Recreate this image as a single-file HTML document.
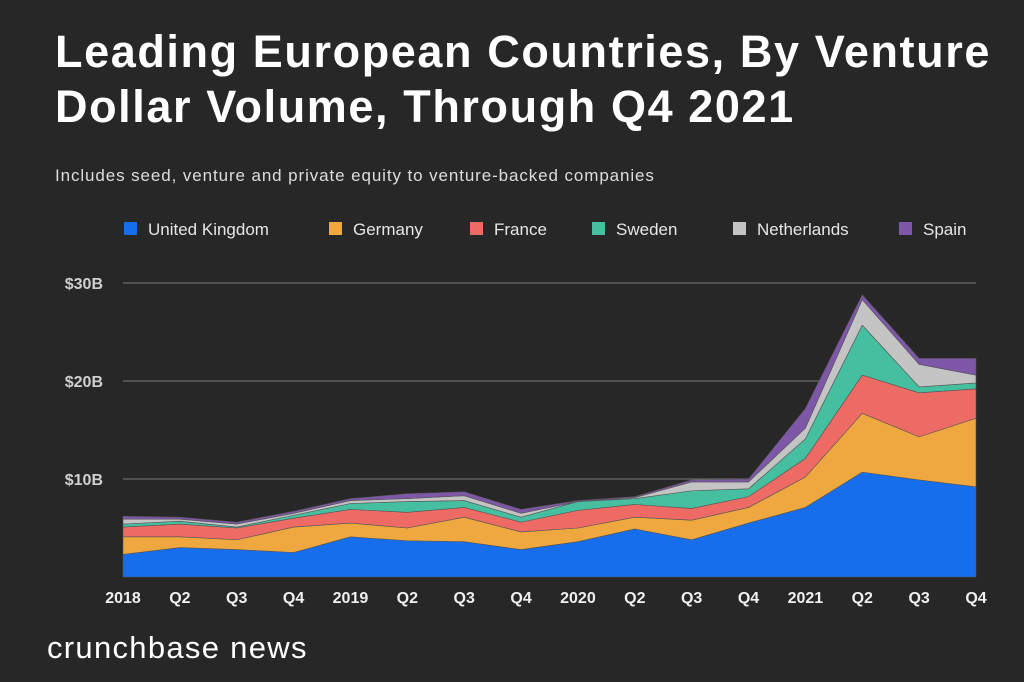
<!DOCTYPE html>
<html><head><meta charset="utf-8"><style>
body{margin:0;background:#272727;width:1024px;height:682px;overflow:hidden;font-family:"Liberation Sans",sans-serif}
#t{position:absolute;left:55px;top:24px;color:#fff;font-weight:bold;font-size:45px;line-height:55px;margin:0;letter-spacing:1.6px;white-space:nowrap}
#s{position:absolute;left:55px;top:166px;color:#ddd;font-size:17px;letter-spacing:0.9px}
#b{position:absolute;left:47px;top:630px;color:#fff;font-size:31px;letter-spacing:1.3px}
svg{position:absolute;left:0;top:0}
</style></head><body>
<h1 id="t">Leading European Countries, By Venture<br>Dollar Volume, Through Q4 2021</h1>
<div id="s">Includes seed, venture and private equity to venture-backed companies</div>
<div id="b">crunchbase news</div>
<svg id="c" width="1024" height="682"></svg>
<script>
const categories=["2018","Q2","Q3","Q4","2019","Q2","Q3","Q4","2020","Q2","Q3","Q4","2021","Q2","Q3","Q4"];
const seriesNames=["United Kingdom","Germany","France","Sweden","Netherlands","Spain"];
const uk=[2.3,3.0,2.8,2.5,4.1,3.7,3.6,2.8,3.6,4.9,3.8,5.5,7.1,10.7,9.9,9.2];
const de=[1.8,1.1,1.0,2.6,1.4,1.3,2.5,1.8,1.4,1.2,2.0,1.6,3.1,6.0,4.4,7.0];
const fr=[1.0,1.3,1.2,0.9,1.4,1.6,1.0,1.0,1.8,1.3,1.2,1.1,1.9,3.9,4.5,3.0];
const se=[0.3,0.3,0.1,0.3,0.6,1.1,0.7,0.5,0.9,0.6,1.8,0.8,2.0,5.1,0.6,0.6];
const nl=[0.5,0.2,0.3,0.2,0.3,0.3,0.5,0.4,0.0,0.1,0.9,0.7,1.1,2.6,2.3,0.8];
const es=[0.3,0.2,0.2,0.2,0.2,0.5,0.4,0.4,0.1,0.1,0.2,0.3,2.0,0.5,0.6,1.7];
const yTicks=[10,20,30];
const yTickLabels=["$10B","$20B","$30B"];
const colors=["#176EEC","#EEA83F","#EE6A64","#45BFA0","#C4C4C4","#7E57A8"];
const NS="http://www.w3.org/2000/svg";
const svg=document.getElementById('c');
const x0=123,x1=976,yBase=577,pxPerB=9.8;
const xs=i=>x0+i*(x1-x0)/(categories.length-1);
const ys=v=>yBase-v*pxPerB;
function mk(t,a){const e=document.createElementNS(NS,t);for(const k in a)e.setAttribute(k,a[k]);svg.appendChild(e);return e;}
yTicks.forEach((v,i)=>{
 const l=mk('line',{x1:x0,x2:x1,y1:ys(v),y2:ys(v),stroke:'#7a7a7a','stroke-width':1});
 
 
 const t=mk('text',{x:103,y:ys(v)+6,'text-anchor':'end',fill:'#d0d0d0','font-size':16,'font-weight':'bold'});
 t.textContent=yTickLabels[i];
 
 
});
const series=[uk,de,fr,se,nl,es];
let cum=categories.map(()=>0);
series.forEach((s,k)=>{
 const lower=cum.slice();
 cum=cum.map((c,i)=>c+s[i]);
 let d='';
 cum.forEach((v,i)=>{d+=(i?'L':'M')+xs(i)+','+ys(v);});
 for(let i=lower.length-1;i>=0;i--)d+='L'+xs(i)+','+ys(lower[i]);
 const p=mk('path',{d:d+'Z',fill:colors[k],stroke:'#555','stroke-width':0.6});
 
 
});
categories.forEach((c,i)=>{
 const t=mk('text',{x:xs(i),y:603,'text-anchor':'middle',fill:'#f0f0f0','font-size':16,'font-weight':'bold'});
 t.textContent=c;
 
 
});
const lx=[124,329,470,592,733,899];
seriesNames.forEach((n,k)=>{
 const r=mk('rect',{x:lx[k],y:222,width:13,height:13,fill:colors[k]});
 
 
 const t=mk('text',{x:lx[k]+24,y:235,fill:'#e6e6e6','font-size':17});
 t.textContent=n;
 
 
});
</script>
</body></html>
